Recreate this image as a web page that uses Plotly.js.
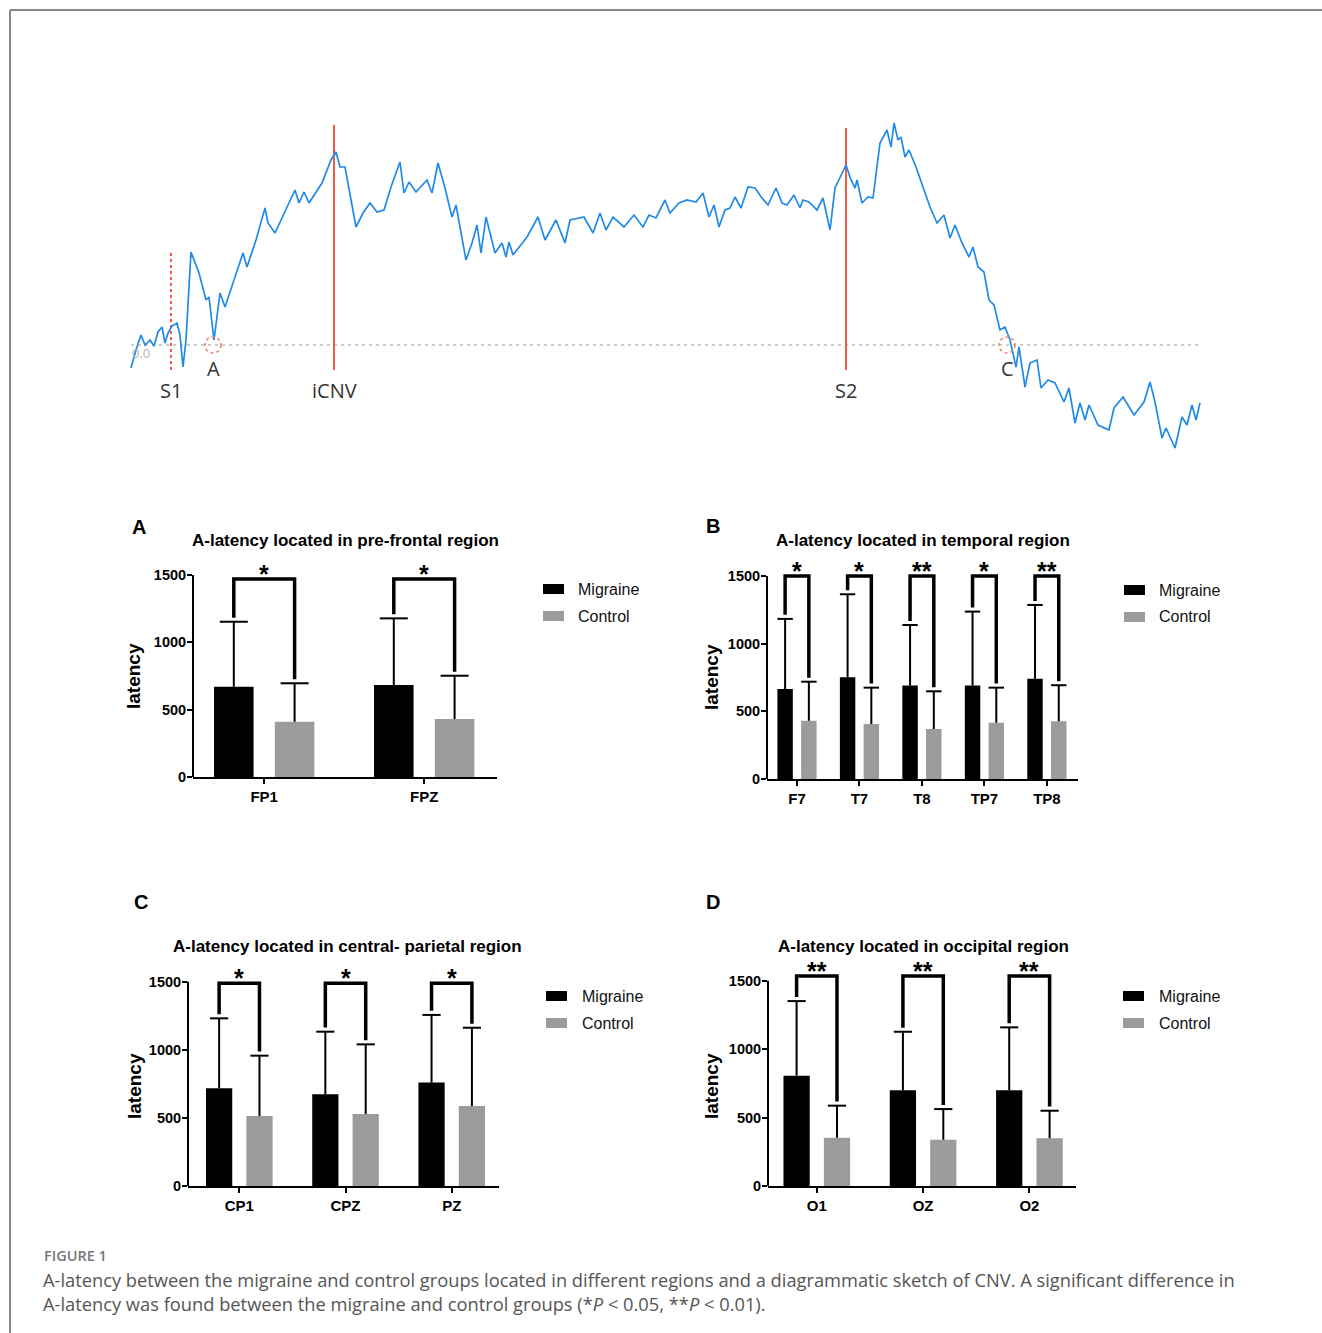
<!DOCTYPE html>
<html><head><meta charset="utf-8">
<script src="https://cdn.plot.ly/plotly-3.0.1.min.js"></script>
<style>html,body{margin:0;padding:0;background:#fff}#chart{width:1322px;height:1333px}</style>
</head><body><div id="chart"></div>
<script>
// ---------- CNV waveform sketch (time relative to S1, amplitude relative to baseline) ----------
const cnvTime = [-40,-35,-30,-26,-21,-17,-13,-9,-6,-3,1,6,9,12,15,20,28,35,38,43,49,54,63,72,76,85,94,97,104,115,124,128,133,138,151,160,165,169,174,185,192,199,206,213,220,229,233,238,245,256,261,267,274,281,285,295,301,306,310,315,324,331,335,338,342,356,367,374,385,394,399,413,422,429,435,442,453,463,472,478,485,494,499,508,516,525,532,538,543,548,554,559,564,570,577,584,591,597,605,611,616,623,629,632,638,646,652,659,664,675,680,684,686,691,697,702,709,716,720,723,727,730,734,738,745,752,759,766,773,779,784,791,798,802,807,813,818,823,829,834,839,845,848,854,859,866,870,877,884,893,898,904,909,914,918,927,938,943,952,963,973,979,984,991,995,1004,1011,1016,1021,1025,1029];
const cnvAmp = [-23,-5,10,0,5,-1,13,18,2,12,19,22,10,-22,5,93,72,45,48,5,52,38,65,92,78,105,137,122,112,135,155,142,153,142,162,185,193,178,178,118,132,142,133,135,158,183,152,163,153,165,152,182,157,128,140,85,102,120,92,128,92,102,88,103,90,108,128,105,125,102,125,128,112,132,115,128,118,130,118,130,127,145,132,142,145,143,152,128,140,118,135,137,148,137,158,157,147,140,157,142,140,150,137,145,143,135,147,115,157,180,165,157,165,142,148,147,202,215,198,222,205,208,188,195,178,158,138,122,130,107,120,102,88,98,78,73,45,40,15,18,5,-22,-2,-42,-18,-15,-43,-35,-38,-57,-43,-78,-58,-75,-60,-80,-85,-63,-52,-70,-57,-37,-57,-93,-83,-103,-72,-80,-60,-75,-58];
const cnvEventNames = ['S1','iCNV','S2'];
const cnvEventTimes = [0,163,675];
const cnvEventTops  = [92,220,217];
const cnvPointNames = ['A','C'];
const cnvPointTimes = [42,836];

// ---------- A-latency bar panels ----------
const catsA = ['FP1','FPZ'];
const migA = [670,683];            const migSdA = [483,495];
const conA = [410,430];            const conSdA = [286,322];
const sigA = ['*','*'];

const catsB = ['F7','T7','T8','TP7','TP8'];
const migB = [665,752,690,690,741]; const migSdB = [518,613,448,547,545];
const conB = [431,406,370,416,426]; const conSdB = [288,269,278,259,267];
const sigB = ['*','*','**','*','**'];

const catsC = ['CP1','CPZ','PZ'];
const migC = [717,673,759];        const migSdC = [514,460,497];
const conC = [514,529,587];        const conSdC = [443,511,575];
const sigC = ['*','*','*'];

const catsD = ['O1','OZ','O2'];
const migD = [806,699,699];        const migSdD = [545,428,460];
const conD = [353,338,348];        const conSdD = [234,224,202];
const sigD = ['**','**','**'];

const seriesNames = ['Migraine','Control'];
const seriesColors = ['#000000','#9b9b9b'];

// ---------- layout helpers ----------
const W = 1322, H = 1333;
const PX = p => p / W, PY = p => 1 - p / H;
const ARIAL = 'Liberation Sans, Arial, sans-serif';
const BARGAP = 0.24, GROUPGAP = 0.35;
const OFF = (1 - BARGAP) / 4;
const YMAX = 1750;

const panels = [
  {sfx:'',  cats:catsA, mig:migA, migSd:migSdA, con:conA, conSd:conSdA, sig:sigA, brY:1470, cap:20,
   letter:'A', title:'A-latency located in pre-frontal region',
   xpx:[193,497], y0:777, y15:575, xr:[-0.445,1.455], tpx:[345,540], lpx:[139,527], ytp:[134,676], gx:[543,564,576], gy:[589,616]},
  {sfx:'2', cats:catsB, mig:migB, migSd:migSdB, con:conB, conSd:conSdB, sig:sigB, brY:1500, cap:11,
   letter:'B', title:'A-latency located in temporal region',
   xpx:[767,1077.5], y0:779, y15:576, xr:[-0.48,4.49], tpx:[922.5,540], lpx:[713,526], ytp:[711,677], gx:[1124,1145,1157], gy:[590,617]},
  {sfx:'3', cats:catsC, mig:migC, migSd:migSdC, con:conC, conSd:conSdC, sig:sigC, brY:1488, cap:13,
   letter:'C', title:'A-latency located in central- parietal region',
   xpx:[188,499], y0:1186, y15:981.7, xr:[-0.483,2.445], tpx:[347,946], lpx:[141,902], ytp:[134,1086], gx:[546,567,580], gy:[996,1023]},
  {sfx:'4', cats:catsD, mig:migD, migSd:migSdD, con:conD, conSd:conSdD, sig:sigD, brY:1534, cap:13,
   letter:'D', title:'A-latency located in occipital region',
   xpx:[768,1076.4], y0:1186, y15:980.7, xr:[-0.459,2.442], tpx:[923,946], lpx:[713,902], ytp:[711,1086], gx:[1123,1144,1157], gy:[996,1023]}
];

const traces = [], shapes = [], annotations = [];
const layout = {
  width: W, height: H, margin:{l:0,r:0,t:0,b:0},
  paper_bgcolor:'#ffffff', plot_bgcolor:'rgba(0,0,0,0)',
  showlegend:false, barmode:'group', bargap:BARGAP, bargroupgap:GROUPGAP,
  font:{family:ARIAL, color:'#000'}
};

panels.forEach(p => {
  const xa = 'x' + p.sfx, ya = 'y' + p.sfx;
  const idx = p.cats.map((c, i) => i);
  const s = (p.y0 - p.y15) / 1500;
  const topPx = p.y0 - YMAX * s;
  layout['xaxis' + p.sfx] = {
    domain:[PX(p.xpx[0]), PX(p.xpx[1])], range:p.xr, anchor:ya,
    tickvals:idx, ticktext:p.cats, showline:true, linewidth:2, linecolor:'#000',
    ticks:'outside', ticklen:5, tickwidth:2, tickcolor:'#000',
    tickfont:{family:ARIAL, size:15, weight:'bold', color:'#000'},
    showgrid:false, zeroline:false, fixedrange:true
  };
  layout['yaxis' + p.sfx] = {
    domain:[PY(p.y0), PY(topPx)], range:[0, YMAX], anchor:xa,
    tickvals:[0,500,1000,1500], showline:false,
    ticks:'outside', ticklen:5, tickwidth:2, tickcolor:'#000', ticklabelstandoff:-2,
    tickfont:{family:ARIAL, size:14.5, weight:'bold', color:'#000'},
    showgrid:false, zeroline:false, fixedrange:true
  };
  // y axis line only up to 1500
  shapes.push({type:'line', xref:xa + ' domain', yref:ya, x0:0, x1:0, y0:0, y1:1500,
               line:{color:'#000', width:2}});
  // bars with one-sided SD error bars (whisker from error_y, cap as marker)
  [[p.mig, p.migSd, -OFF], [p.con, p.conSd, OFF]].forEach((d, k) => {
    traces.push({type:'bar', x:idx, y:d[0], name:seriesNames[k], xaxis:xa, yaxis:ya,
      marker:{color:seriesColors[k], line:{width:0}},
      error_y:{type:'data', symmetric:false, array:d[1], arrayminus:d[1].map(() => 0),
               color:'#000', thickness:2, width:0},
      hoverinfo:'x+y'});
    traces.push({type:'scatter', mode:'markers', x:idx.map(i => i + d[2]), y:d[0].map((v, i) => v + d[1][i]),
      xaxis:xa, yaxis:ya, hoverinfo:'skip', cliponaxis:false,
      marker:{symbol:'line-ew', size:p.cap, color:'#000', line:{color:'#000', width:2}}});
  });
  // significance brackets
  const bx = [], by = [];
  p.sig.forEach((sg, i) => {
    bx.push(i - OFF, i - OFF, i + OFF, i + OFF, null);
    by.push(p.mig[i] + p.migSd[i] + 30, p.brY, p.brY, p.con[i] + p.conSd[i] + 30, null);
    annotations.push({xref:xa, yref:ya, x:i, y:p.brY, text:'<b>' + sg + '</b>', showarrow:false,
      yanchor:'bottom', yshift:-11, font:{family:ARIAL, size:25, color:'#000'}});
  });
  traces.push({type:'scatter', mode:'lines', x:bx, y:by, xaxis:xa, yaxis:ya,
    line:{color:'#000', width:3.5}, hoverinfo:'skip', cliponaxis:false});
  // axis title, panel title, letter
  annotations.push({xref:'paper', yref:'paper', x:PX(p.ytp[0]), y:PY(p.ytp[1]), text:'<b>latency</b>', textangle:-90,
    showarrow:false, xanchor:'center', yanchor:'middle', font:{family:ARIAL, size:19, color:'#000'}});
  annotations.push({xref:'paper', yref:'paper', x:PX(p.tpx[0]), y:PY(p.tpx[1]), text:'<b>' + p.title + '</b>',
    showarrow:false, xanchor:'center', yanchor:'middle', font:{family:ARIAL, size:17, color:'#000'}});
  annotations.push({xref:'paper', yref:'paper', x:PX(p.lpx[0]), y:PY(p.lpx[1]), text:'<b>' + p.letter + '</b>',
    showarrow:false, xanchor:'center', yanchor:'middle', font:{family:ARIAL, size:20, color:'#000'}});
  // legend
  seriesNames.forEach((nm, k) => {
    shapes.push({type:'rect', xref:'paper', yref:'paper', x0:PX(p.gx[0]), x1:PX(p.gx[1]),
      y0:PY(p.gy[k] + 5), y1:PY(p.gy[k] - 5), fillcolor:seriesColors[k], line:{width:0}});
    annotations.push({xref:'paper', yref:'paper', x:PX(p.gx[2]), y:PY(p.gy[k]), text:nm, showarrow:false,
      xanchor:'left', yanchor:'middle', font:{family:ARIAL, size:16, color:'#111'}});
  });
});

// ---------- waveform subplot ----------
layout.xaxis5 = {domain:[0,1], range:[-171, W - 171], visible:false, fixedrange:true, anchor:'y5'};
layout.yaxis5 = {domain:[PY(480), PY(80)], range:[-135, 265], visible:false, fixedrange:true, anchor:'x5'};
const WFONT = 'Open Sans, DejaVu Sans, sans-serif';
traces.push({type:'scatter', mode:'lines', x:[cnvTime[0], cnvTime[cnvTime.length - 1]], y:[0,0],
  xaxis:'x5', yaxis:'y5', line:{color:'#9a9a9a', width:1.2, dash:'3px,4px'}, hoverinfo:'skip'});
cnvEventNames.forEach((nm, i) => {
  traces.push({type:'scatter', mode:'lines', x:[cnvEventTimes[i], cnvEventTimes[i]], y:[-25, cnvEventTops[i]],
    xaxis:'x5', yaxis:'y5', line:{color:'#f2594b', width:2, dash: i === 0 ? 'dot' : 'solid'}, hoverinfo:'skip', name:nm});
  annotations.push({xref:'x5', yref:'y5', x:cnvEventTimes[i], y:-45, text:nm, showarrow:false,
    xanchor:'center', yanchor:'middle', font:{family:WFONT, size:20, color:'#333'}});
});
traces.push({type:'scatter', mode:'lines', x:cnvTime, y:cnvAmp, xaxis:'x5', yaxis:'y5',
  line:{color:'#2189e8', width:1.7}, hoverinfo:'skip', name:'CNV'});
cnvPointNames.forEach((nm, i) => {
  const t = cnvPointTimes[i];
  shapes.push({type:'circle', xref:'x5', yref:'y5', x0:t - 8, x1:t + 8, y0:-8, y1:8,
    line:{color:'#f07a68', width:1.5, dash:'dot'}});
  annotations.push({xref:'x5', yref:'y5', x:t, y:-23, text:nm, showarrow:false,
    xanchor:'center', yanchor:'middle', font:{family:WFONT, size:20, color:'#333'}});
});
annotations.push({xref:'x5', yref:'y5', x:-30, y:-8, text:'0.0', showarrow:false,
  xanchor:'center', yanchor:'middle', font:{family:WFONT, size:13, color:'#b5b5b5'}});

// ---------- frame + caption ----------
shapes.push({type:'line', xref:'paper', yref:'paper', x0:PX(10), x1:1, y0:PY(10), y1:PY(10), line:{color:'#888', width:2}});
shapes.push({type:'line', xref:'paper', yref:'paper', x0:PX(10), x1:PX(10), y0:PY(10), y1:0, line:{color:'#888', width:2}});
const CFONT = 'Open Sans, Lato, sans-serif';
annotations.push({xref:'paper', yref:'paper', x:PX(42), y:PY(1255), text:'FIGURE 1', showarrow:false,
  xanchor:'left', yanchor:'middle', font:{family:CFONT, size:14.5, weight:600, color:'#777'}});
annotations.push({xref:'paper', yref:'paper', x:PX(41), y:PY(1279),
  text:'A-latency between the migraine and control groups located in different regions and a diagrammatic sketch of CNV. A significant difference in',
  showarrow:false, xanchor:'left', yanchor:'middle', font:{family:CFONT, size:18.3, color:'#555'}});
annotations.push({xref:'paper', yref:'paper', x:PX(41), y:PY(1303),
  text:'A-latency was found between the migraine and control groups (*<i>P</i> &lt; 0.05, **<i>P</i> &lt; 0.01).',
  showarrow:false, xanchor:'left', yanchor:'middle', font:{family:CFONT, size:18.3, color:'#555'}});

layout.shapes = shapes;
layout.annotations = annotations;
Plotly.newPlot('chart', traces, layout, {displayModeBar:false, responsive:false});
</script>
</body></html>
